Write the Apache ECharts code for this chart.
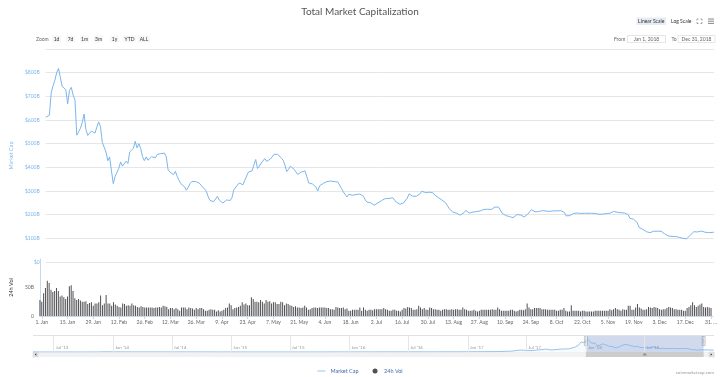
<!DOCTYPE html>
<html>
<head>
<meta charset="utf-8">
<title>Total Market Capitalization</title>
<script src="https://cdn.jsdelivr.net/npm/echarts@6/dist/echarts.min.js"></script>
<style>
html, body { margin: 0; padding: 0; background: #fff; }
#chart { width: 720px; height: 377px; }
</style>
</head>
<body>
<div id="chart"></div>
<script>
// total market cap in $B, one value per day from 31 Dec 2017 to 1 Jan 2019
var capStart = '2017-12-31';
var marketCap = [
    612,614,620,715,745,768,800,818,826,742,
    735,728,668,725,738,705,685,536,550,565,
    590,625,560,535,529,553,547,545,570,592,
    572,505,510,465,428,444,385,331,362,358,
    395,423,405,400,426,416,465,472,480,510,
    482,500,480,445,428,444,430,428,445,451,
    440,454,456,458,465,460,445,390,380,372,
    369,383,362,345,331,331,318,303,315,331,
    340,345,340,337,334,325,317,308,298,275,
    260,258,255,262,277,262,255,249,255,262,
    264,260,272,305,312,325,334,328,326,345,
    353,380,385,385,410,433,395,405,418,410,
    437,425,420,435,444,455,463,455,450,440,
    430,410,382,392,405,398,392,385,370,372,
    380,385,385,360,334,332,330,325,317,300,
    322,328,332,337,340,347,342,338,340,342,
    338,334,310,296,285,275,286,283,282,281,
    285,289,287,283,278,262,253,255,250,247,
    240,236,250,256,260,265,268,266,268,270,
    272,265,253,248,244,247,250,253,270,288,
    285,278,275,278,280,288,299,297,293,292,
    295,296,293,283,280,272,265,262,258,250,
    238,225,220,211,208,206,203,198,200,208,
    218,212,207,210,211,212,213,215,216,218,
    222,225,223,221,222,228,232,233,232,232,
    206,202,196,193,192,190,187,195,200,201,
    199,193,190,197,202,212,221,218,212,210,
    213,218,217,215,215,214,214,213,216,218,
    216,216,217,215,210,195,194,196,197,205,
    208,207,206,205,206,206,206,206,205,206,
    206,205,204,202,201,202,204,205,204,206,
    210,214,215,210,208,208,208,207,207,200,
    184,182,181,180,165,146,142,138,136,128,
    125,124,122,130,136,130,127,130,124,119,
    115,110,108,108,109,108,106,104,102,100,
    99,98,106,113,120,128,129,127,126,131,
    130,126,122,124,126,125,126
];

// 24h volume in $B, one value per day from 31 Dec 2017 to 31 Dec 2018
var volStart = '2017-12-31';
var volume = [
    28,25,40,49,62,58,46,42,44,49,44,34,36,33,
    30,34,52,54,44,31,28,30,27,25,25,26,21,23,
    24,18,22,22,24,36,19,22,37,22,22,18,24,20,
    18,16,15,22,21,18,19,18,22,19,18,16,15,17,
    16,15,15,15,15,15,14,15,15,16,15,18,17,16,
    12,14,14,12,14,12,9,15,15,15,12,15,14,13,
    11,14,12,14,14,12,9,9,11,12,11,11,8,10,
    8,9,11,14,15,22,19,12,14,15,16,18,24,20,
    22,19,19,33,30,25,25,24,28,25,22,28,25,26,
    22,24,24,21,21,25,24,19,22,21,19,18,16,17,
    15,15,14,15,18,15,11,12,14,15,15,14,15,15,
    15,15,14,14,12,12,11,16,15,14,14,15,12,13,
    9,9,11,11,11,11,15,9,15,11,9,11,11,10,
    12,12,
    12,12,12,14,12,11,9,9,11,11,9,9,8,11,14,13,
    16,15,14,11,11,12,18,15,12,14,11,11,15,14,12,12,
    11,11,9,11,12,12,11,11,12,11,12,12,11,11,15,12,
    11,9,9,9,11,9,8,9,11,11,11,11,11,11,12,11,
    11,15,12,9,9,9,9,9,11,11,9,8,9,11,11,10,
    12,22,15,12,12,14,14,14,14,12,12,12,11,11,11,11,
    11,9,9,11,11,14,9,8,8,19,9,9,9,9,8,9,
    9,8,8,8,8,8,9,9,9,9,9,9,9,9,12,10,
    12,14,12,11,9,12,11,11,18,18,11,11,15,21,15,13,
    11,11,12,16,15,14,16,15,14,12,11,12,12,14,16,15,
    14,12,12,11,11,11,9,9,14,16,19,24,19,16,18,20,
    22,16,15,16,15,14
];

// navigator: older history (and early 2019), $B
var historyDates = ['2013-04-28','2013-06-01','2013-08-01','2013-10-01','2013-11-15','2013-12-04',
    '2014-01-01','2014-03-01','2014-06-01','2014-09-01','2014-12-01','2015-03-01','2015-06-01',
    '2015-09-01','2015-12-01','2016-03-01','2016-06-01','2016-09-01','2016-12-01','2017-02-01',
    '2017-04-01','2017-05-15','2017-06-12','2017-07-15','2017-08-15','2017-09-01','2017-09-15',
    '2017-10-15','2017-11-10','2017-11-30','2017-12-10','2017-12-17','2017-12-24'];
var historyCap = [1.5,1.3,1.2,1.6,3,14,10,8,8,6.5,5,3.6,3.3,3.6,6.5,7.5,9.5,10,12,18,
    25,50,115,80,140,170,120,170,190,300,420,600,560];
var tailDates = ['2019-01-15','2019-01-31'];
var tailCap = [125, 112];

// axis ticks
var xTickDates = ['2018-01-01','2018-01-15','2018-01-29','2018-02-12','2018-02-26','2018-03-12',
    '2018-03-26','2018-04-09','2018-04-23','2018-05-07','2018-05-21','2018-06-04','2018-06-18',
    '2018-07-02','2018-07-16','2018-07-30','2018-08-13','2018-08-27','2018-09-10','2018-09-24',
    '2018-10-08','2018-10-22','2018-11-05','2018-11-19','2018-12-03','2018-12-17','2018-12-31'];
var xTickLabels = ['1. Jan','15. Jan','29. Jan','12. Feb','26. Feb','12. Mar','26. Mar','9. Apr',
    '23. Apr','7. May','21. May','4. Jun','18. Jun','2. Jul','16. Jul','30. Jul','13. Aug',
    '27. Aug','10. Sep','24. Sep','8. Oct','22. Oct','5. Nov','19. Nov','3. Dec','17. Dec','31. …'];
var navTickDates = ['2013-07-01','2014-01-01','2014-07-01','2015-01-01','2015-07-01','2016-01-01',
    '2016-07-01','2017-01-01','2017-07-01','2018-01-01','2018-07-01'];
var navTickLabels = ["Jul '13","Jan '14","Jul '14","Jan '15","Jul '15","Jan '16",
    "Jul '16","Jan '17","Jul '17","Jan '18","Jul '18"];

function ts(s) { return Date.parse(s + 'T00:00:00Z'); }
function daily(start, values) {
    var t0 = ts(start);
    return values.map(function (v, i) { return [t0 + i * 864e5, v]; });
}

var capData = daily(capStart, marketCap);
var volData = daily(volStart, volume);
var navData = historyDates.map(function (d, i) { return [ts(d), historyCap[i]]; })
    .concat(capData)
    .concat(tailDates.map(function (d, i) { return [ts(d), tailCap[i]]; }));

var xTicks = xTickDates.map(ts);
var navTicks = navTickDates.map(ts);
var font = 'Lato';
var xMin = ts('2017-12-31'), xMax = ts('2019-01-01');

var myChart = echarts.init(document.getElementById('chart'));
var option = {
    animation: false,
    title: {
        text: 'Total Market Capitalization',
        left: 'center',
        top: 2,
        textStyle: { fontSize: 10, fontWeight: 'normal', color: '#555', fontFamily: font }
    },
    legend: {
        top: 363,
        left: 'center',
        itemWidth: 8,
        itemHeight: 5,
        itemGap: 14,
        textStyle: { fontSize: 5.5, color: '#3e6fb0', fontFamily: font },
        data: [
            { name: 'Market Cap', icon: 'path://M0,0H16V1.6H0Z' },
            { name: '24h Vol', icon: 'circle' }
        ]
    },
    grid: [
        { left: 33, right: 6, top: 49, height: 213 },
        { left: 33, right: 6, top: 259, height: 57 },
        { left: 33, right: 6, top: 336, height: 16 }
    ],
    // dates are plotted as UTC timestamps on value axes
    xAxis: [
        { type: 'value', gridIndex: 0, min: xMin, max: xMax, show: false },
        {
            type: 'value', gridIndex: 1, min: xMin, max: xMax,
            axisLine: { show: true, lineStyle: { color: '#ccd6eb' } },
            axisTick: { show: true, customValues: xTicks, length: 3, lineStyle: { color: '#ccd6eb' } },
            splitLine: { show: false },
            axisLabel: {
                customValues: xTicks,
                margin: 4,
                fontSize: 5,
                color: '#666',
                fontFamily: font,
                formatter: function (v) { return xTickLabels[xTicks.indexOf(v)]; }
            }
        },
        {
            type: 'value', gridIndex: 2, min: ts('2013-04-28'), max: ts('2019-02-01'),
            axisLine: { show: false },
            axisTick: { show: false },
            splitLine: { show: false },
            axisLabel: {
                customValues: navTicks,
                inside: true,
                margin: 2,
                align: 'left',
                padding: [0, 0, 0, 2],
                fontSize: 4.5,
                color: '#999',
                fontFamily: font,
                formatter: function (v) { return navTickLabels[navTicks.indexOf(v)]; }
            }
        }
    ],
    yAxis: [
        {
            type: 'value', gridIndex: 0, min: 0, max: 900, interval: 100,
            name: 'Market Cap', nameLocation: 'middle', nameGap: 25,
            nameTextStyle: { fontSize: 5.5, color: '#7cb5ec', fontFamily: font },
            axisLine: { show: false },
            axisTick: { show: false },
            splitLine: { lineStyle: { color: '#e6e6e6', width: 1 } },
            axisLabel: {
                showMaxLabel: false,
                margin: 6,
                fontSize: 5,
                color: '#7cb5ec',
                fontFamily: font,
                formatter: function (v) { return v === 0 ? '$0' : '$' + v + 'B'; }
            }
        },
        {
            type: 'value', gridIndex: 1, min: 0, max: 100, interval: 50,
            name: '24h Vol', nameLocation: 'middle', nameGap: 24,
            nameTextStyle: { fontSize: 5.5, color: '#333', fontFamily: font },
            axisLine: { show: true, lineStyle: { color: '#ccd6eb' } },
            axisTick: { show: false },
            splitLine: { show: false },
            axisLabel: {
                showMaxLabel: false,
                margin: 6,
                fontSize: 5,
                color: '#666',
                fontFamily: font,
                formatter: function (v) { return v === 0 ? '0' : v + 'B'; }
            }
        },
        { type: 'value', gridIndex: 2, min: 0, max: 950, show: false }
    ],
    series: [
        {
            name: 'Market Cap',
            type: 'line',
            xAxisIndex: 0,
            yAxisIndex: 0,
            symbol: 'none',
            color: '#7cb5ec',
            lineStyle: { width: 1 },
            data: capData
        },
        {
            name: '24h Vol',
            type: 'bar',
            xAxisIndex: 1,
            yAxisIndex: 1,
            barWidth: 1,
            color: '#505055',
            data: volData
        },
        {
            name: 'navigator',
            type: 'line',
            xAxisIndex: 2,
            yAxisIndex: 2,
            symbol: 'none',
            color: '#7cb5ec',
            lineStyle: { width: 0.8 },
            areaStyle: { color: 'rgba(124,181,236,0.08)' },
            silent: true,
            data: navData,
            markLine: {
                silent: true,
                symbol: ['none', 'none'],
                label: { show: false },
                lineStyle: { color: '#e6e6e6', width: 1, type: 'solid' },
                data: navTicks.map(function (t) { return { xAxis: t }; })
            },
            markArea: {
                silent: true,
                itemStyle: { color: 'rgba(102,133,194,0.3)' },
                data: [[{ xAxis: ts('2018-01-01') }, { xAxis: ts('2018-12-31') }]]
            }
        }
    ]
};
myChart.setOption(option);

// chrome around the chart: range buttons, scale switch, navigator handles, scrollbar
var selA = myChart.convertToPixel({ xAxisIndex: 2 }, ts('2018-01-01'));
var selB = myChart.convertToPixel({ xAxisIndex: 2 }, ts('2018-12-31'));
var small = { fontSize: 5, fontFamily: font };

function txt(x, y, s, color, align) {
    return { type: 'text', x: x, y: y, style: Object.assign({ text: s, fill: color, align: align || 'left', verticalAlign: 'middle' }, small) };
}
function box(x, y, w, h, fill, stroke) {
    return { type: 'rect', shape: { x: x, y: y, width: w, height: h }, style: { fill: fill, stroke: stroke || null, lineWidth: 0.5 } };
}

var g = [];
g.push({ type: 'line', shape: { x1: 33, y1: 335.5, x2: 714, y2: 335.5 }, style: { stroke: '#cccccc', lineWidth: 0.6 } });
g.push(txt(36, 39, 'Zoom', '#666'));
[['1d', 52, 9], ['7d', 66, 9], ['1m', 80, 9], ['3m', 94, 9], ['1y', 110, 9], ['YTD', 123, 13], ['ALL', 138, 12]].forEach(function (b) {
    g.push(box(b[1], 35.5, b[2], 7, '#f7f7f7'));
    g.push(txt(b[1] + b[2] / 2, 39, b[0], '#333', 'center'));
});
g.push(box(636.5, 17.5, 29.5, 7.5, '#e6ebf5'));
g.push(txt(651.2, 21.3, 'Linear Scale', '#333', 'center'));
g.push(txt(671, 21.3, 'Log Scale', '#333'));
// fullscreen icon
[[697, 19, 1, 1], [702, 19, -1, 1], [697, 23.5, 1, -1], [702, 23.5, -1, -1]].forEach(function (c) {
    g.push({ type: 'polyline', shape: { points: [[c[0], c[1] + c[3] * 1.5], [c[0], c[1]], [c[0] + c[2] * 1.5, c[1]]] }, style: { stroke: '#666', lineWidth: 0.6, fill: null } });
});
// menu icon
[19, 21.2, 23.4].forEach(function (y) {
    g.push({ type: 'line', shape: { x1: 708, y1: y, x2: 714, y2: y }, style: { stroke: '#666', lineWidth: 0.8 } });
});
g.push(txt(614, 39.3, 'From', '#666'));
g.push(box(627.5, 35.5, 38, 7, '#fff', '#ccc'));
g.push(txt(646.5, 39.3, 'Jan 1, 2018', '#666', 'center'));
g.push(txt(671.5, 39.3, 'To', '#666'));
g.push(box(678, 35.5, 37, 7, '#fff', '#ccc'));
g.push(txt(696.5, 39.3, 'Dec 31, 2018', '#666', 'center'));
// navigator handles
[selA, selB].forEach(function (x) {
    g.push(box(x - 1.5, 336.5, 3, 9, '#f2f2f2', '#999'));
    g.push({ type: 'line', shape: { x1: x, y1: 338.5, x2: x, y2: 343.5 }, style: { stroke: '#999', lineWidth: 0.4 } });
});
// scrollbar
g.push(box(33, 352, 682, 5, '#f2f2f2'));
g.push(box(selA, 352, selB - selA, 5, '#cccccc'));
[-1, 0, 1].forEach(function (k) {
    var cx = (selA + selB) / 2 + k * 1;
    g.push({ type: 'line', shape: { x1: cx, y1: 353.5, x2: cx, y2: 355.5 }, style: { stroke: '#333', lineWidth: 0.4 } });
});
g.push(box(33, 352, 5, 5, '#e6e6e6', '#ccc'));
g.push({ type: 'polygon', shape: { points: [[36.3, 353.3], [36.3, 355.7], [34.7, 354.5]] }, style: { fill: '#333' } });
g.push(box(709, 352, 5, 5, '#e6e6e6', '#ccc'));
g.push({ type: 'polygon', shape: { points: [[710.7, 353.3], [710.7, 355.7], [712.3, 354.5]] }, style: { fill: '#333' } });
g.push({ type: 'text', x: 714, y: 373, style: { text: 'coinmarketcap.com', fill: '#999', fontSize: 4.5, fontFamily: font, align: 'right', verticalAlign: 'middle' } });

myChart.setOption({ graphic: g });
</script>
</body>
</html>
